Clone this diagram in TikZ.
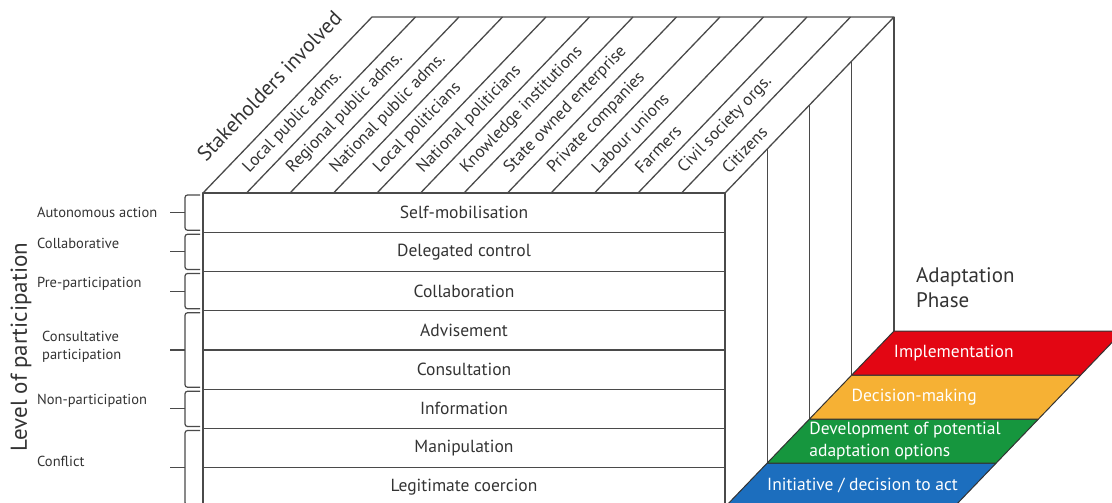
\documentclass[tikz,border=0pt]{standalone}
\usepackage{fontspec}
\setmainfont{PT Sans}
\usetikzlibrary{positioning,calc}

\definecolor{phasered}{HTML}{E30613}
\definecolor{phaseyellow}{HTML}{F6B134}
\definecolor{phasegreen}{HTML}{16963E}
\definecolor{phaseblue}{HTML}{1C6EBE}
\definecolor{linegray}{HTML}{4A4A4A}
\definecolor{textgray}{HTML}{333333}

\tikzset{
  edge/.style={draw=linegray, line width=1.3pt},
  brace/.style={draw=linegray, line width=1.2pt, rounded corners=2.5pt},
  band/.style={draw=textgray, line width=1pt},
  rowlabel/.style={font=\fontsize{17.5}{20}\selectfont, text=textgray},
  stake/.style={font=\fontsize{17}{20}\selectfont, text=textgray, rotate=46.2, anchor=west, inner sep=1pt},
  grouplabel/.style={font=\fontsize{14.5}{18}\selectfont, text=textgray, anchor=west, align=left, inner sep=1pt},
  axislabel/.style={font=\fontsize{21}{25}\selectfont, text=textgray},
  bandlabel/.style={font=\fontsize{17.5}{22}\selectfont, text=white, anchor=west, align=left, inner sep=1pt}
}

\begin{document}
\begin{tikzpicture}[x=1pt, y=-1pt, line join=round]
  \useasboundingbox (0,0) rectangle (1112,503);

  % Front face: levels of participation
  \draw[edge] (203,193) rectangle (725,507);
  \foreach \j in {1,...,7}
    \draw[edge] (203,193+39.25*\j) -- (725,193+39.25*\j);
  \foreach \txt [count=\j from 0] in {Self-mobilisation, Delegated control, Collaboration, Advisement, Consultation, Information, Manipulation, Legitimate coercion}
    \node[rowlabel] (row\j) at (464,193+39.25*\j+19.6) {\txt};

  % Top face: stakeholders
  \draw[edge] (203,193) -- (372,17) -- (894,17) -- (725,193);
  \foreach \i in {1,...,11}
    \draw[edge] (203+43.5*\i,193) -- ++(169,-176);
  \foreach \txt [count=\i from 0] in {Local public adms., Regional public adms., National public adms., Local politicians, National politicians, Knowledge institutions, State owned enterprise, Private companies, Labour unions, Farmers, Civil society orgs., Citizens}
    \node[stake] (stake\i) at (245.5+43.5*\i,171.4) {\txt};
  \node[axislabel, rotate=46.2, anchor=west, inner sep=1pt] (stakeholders) at (200,158) {Stakeholders involved};

  % Side face: adaptation phases
  \foreach \k in {1,2,3}
    \draw[edge] (725+42.25*\k,193-44*\k) -- (725+42.25*\k,507-44*\k);
  \draw[edge] (894,17) -- (894,331);

  % Phase bands
  \foreach \k/\col/\txt in {0/phaseblue/{Initiative / decision to act}, 1/phasegreen/{Development of potential\\adaptation options}, 2/phaseyellow/{Decision-making}, 3/phasered/{Implementation}} {
    \draw[band, fill=\col] (725+42.25*\k,507-44*\k) -- ++(229,0) -- ++(42.25,-44) -- ++(-229,0) -- cycle;
    \node[bandlabel] (phase\k) at (766+42.25*\k,485-44*\k) {\txt};
  }
  \node[axislabel, align=left, anchor=north west, inner sep=1pt] (adaptation) at (915,266) {Adaptation\\Phase};

  % Level of participation groups
  \node[axislabel, font=\fontsize{23}{26}\selectfont, rotate=90] (level) at (21,347) {Level of participation};
  \foreach \ra/\rb/\lx/\ly/\txt [count=\g] in {0/0/36/212/{Autonomous action}, 1/1/36/243/{Collaborative}, 2/2/36/284/{Pre-participation}, 3/4/41/347/{Consultative\\participation}, 5/5/36/401/{Non-participation}, 6/7/36/461/{Conflict}} {
    \draw[brace] (200,193+39.25*\ra+2) -- (185,193+39.25*\ra+2) -- (185,193+39.25*\rb+37.25) -- (200,193+39.25*\rb+37.25);
    \draw[brace] (170,193+19.625*\ra+19.625*\rb+19.6) -- (185,193+19.625*\ra+19.625*\rb+19.6);
    \node[grouplabel] (group\g) at (\lx,\ly) {\txt};
  }
\end{tikzpicture}
\end{document}
